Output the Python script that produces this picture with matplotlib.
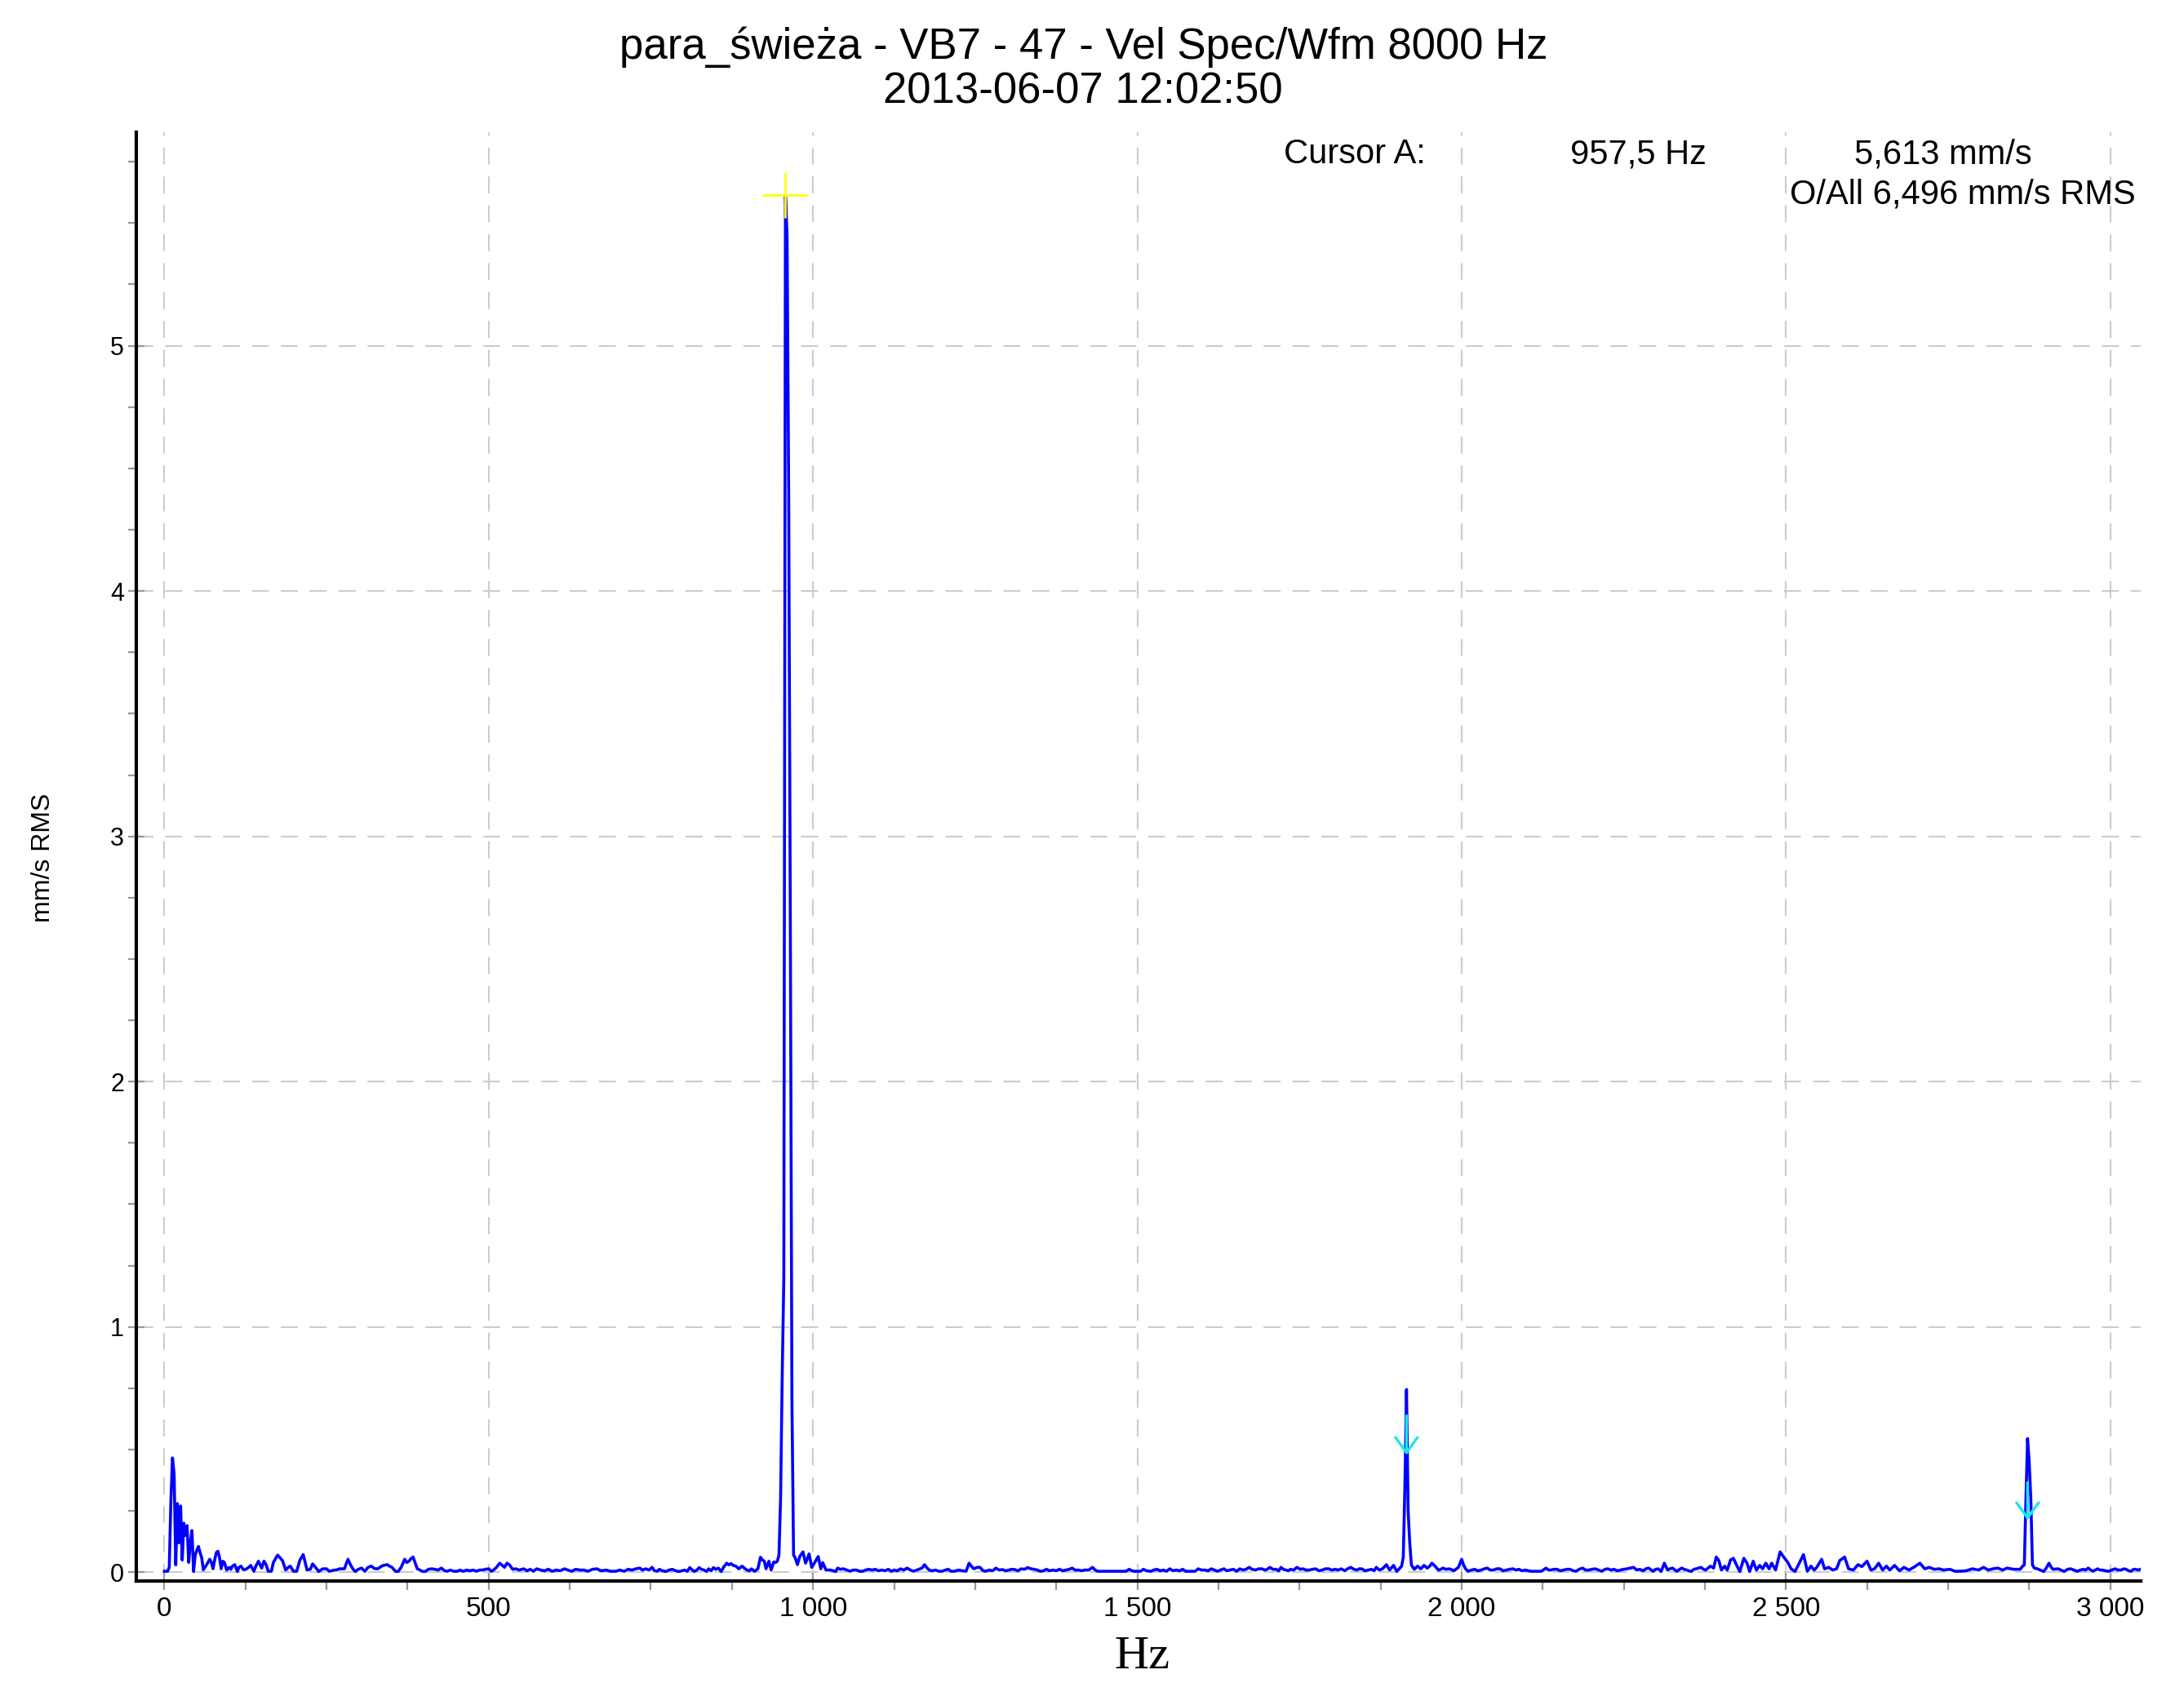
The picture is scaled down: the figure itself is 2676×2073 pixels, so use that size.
import numpy as np
import matplotlib
matplotlib.use("Agg")
import matplotlib.pyplot as plt
from matplotlib.ticker import MultipleLocator, FuncFormatter

plt.rcParams['font.family'] = ['Liberation Sans', 'DejaVu Sans']

# spectrum as (Hz, mm/s RMS) pairs, one list per band
band_0_750 = [
    (0, 0.004), (5, 0.004), (7.5, 0.02), (10, 0.29), (12.5, 0.466), (15, 0.40),
    (17.5, 0.03), (20, 0.28), (22.5, 0.12), (25, 0.27), (27.5, 0.05), (30, 0.20),
    (32.5, 0.15), (35, 0.19), (37.5, 0.04), (40, 0.12), (42.5, 0.17), (45, 0.003),
    (47.5, 0.07), (50, 0.09), (52.5, 0.105), (55, 0.08), (57.5, 0.06), (60, 0.01),
    (62.5, 0.02), (65, 0.03), (70, 0.053), (72.5, 0.04), (75, 0.014), (77.5, 0.05),
    (80, 0.08), (82.5, 0.086), (85, 0.06), (87.5, 0.014), (90, 0.045), (92.5, 0.04),
    (96, 0.009), (100, 0.02), (102.5, 0.012), (105, 0.025), (108.5, 0.031),
    (112.5, 0.003), (115, 0.02), (118, 0.025), (122, 0.01), (125.5, 0.012),
    (130, 0.02), (133, 0.028), (138, 0.004), (141, 0.025), (145, 0.045),
    (150, 0.017), (153.5, 0.045), (157, 0.03), (160, 0.004), (165, 0.004),
    (168, 0.04), (174.5, 0.07), (178, 0.06), (182, 0.048), (187, 0.009),
    (191, 0.02), (194, 0.025), (199, 0.004), (204, 0.004), (209, 0.05),
    (214, 0.072), (217, 0.04), (220, 0.009), (225, 0.012), (228.5, 0.034),
    (233, 0.02), (238, 0.003), (244, 0.014), (250, 0.014), (254, 0.004),
    (258, 0.006), (262, 0.009), (265, 0.009), (270, 0.014), (274, 0.014),
    (277.5, 0.014), (283, 0.053), (287, 0.03), (291, 0.012), (294.5, 0.003),
    (299, 0.012), (304, 0.017), (309, 0.004), (314, 0.02), (319, 0.025),
    (324, 0.015), (329, 0.014), (335, 0.025), (338, 0.028), (343.5, 0.031),
    (347, 0.025), (351, 0.02), (356, 0.004), (360.5, 0.003), (365, 0.02),
    (370.5, 0.053), (373.5, 0.04), (377, 0.045), (380, 0.055), (383.5, 0.062),
    (387, 0.035), (390, 0.014), (394, 0.009), (397, 0.004), (402, 0.003),
    (407, 0.012), (412, 0.014), (417, 0.012), (422, 0.009), (427, 0.017),
    (432, 0.006), (436, 0.004), (441, 0.009), (446, 0.004), (451, 0.004),
    (456, 0.009), (461, 0.004), (466, 0.009), (471, 0.006), (476, 0.009),
    (481, 0.004), (486, 0.009), (490, 0.009), (495, 0.012), (500, 0.014),
    (504, 0.004), (507.5, 0.009), (512, 0.02), (517, 0.037), (521, 0.028),
    (524.5, 0.02), (528, 0.037), (532, 0.03), (537, 0.012), (542, 0.014),
    (547, 0.009), (554, 0.014), (559, 0.006), (564, 0.012), (569, 0.004),
    (574, 0.014), (580, 0.009), (586, 0.006), (592, 0.012), (598, 0.004),
    (604, 0.009), (610, 0.006), (617, 0.014), (622, 0.009), (628, 0.004),
    (634, 0.012), (641, 0.009), (647, 0.009), (653, 0.004), (660, 0.012),
    (667, 0.014), (673, 0.006), (681, 0.009), (688, 0.004), (696, 0.004),
    (702, 0.009), (709, 0.004), (715, 0.012), (721, 0.009), (727, 0.014),
    (733, 0.017), (737, 0.009), (742, 0.014), (747, 0.009), (752, 0.02),
]

band_750_1520 = [
    (755, 0.007), (760, 0.004), (763, 0.012), (768, 0.006), (773, 0.003),
    (778, 0.009), (783, 0.012), (788, 0.006), (793, 0.003), (798, 0.006),
    (802, 0.009), (806, 0.004), (810, 0.019), (814, 0.009), (817, 0.003),
    (821, 0.009), (824.5, 0.019), (828, 0.012), (832, 0.009), (836, 0.003),
    (839, 0.014), (843, 0.006), (846.5, 0.019), (850, 0.012), (854, 0.017),
    (858.5, 0.003), (862, 0.02), (867, 0.037), (870, 0.03), (873.5, 0.035),
    (877, 0.028), (881, 0.025), (885.5, 0.014), (890.5, 0.025), (894, 0.017),
    (898, 0.009), (902, 0.006), (905, 0.014), (910, 0.004), (915, 0.014),
    (919, 0.061), (922, 0.05), (925, 0.045), (927.5, 0.014), (932, 0.045),
    (935.5, 0.009), (939.5, 0.042), (942.5, 0.04), (945, 0.045), (947.5, 0.07),
    (950, 0.3), (952.5, 0.8), (955, 1.2), (957.5, 5.613), (960, 5.45),
    (962.5, 4.4), (965, 2.66), (967.5, 0.7), (970, 0.07), (972.5, 0.059),
    (976, 0.031), (979.5, 0.064), (984.5, 0.083), (988.5, 0.037), (994, 0.075),
    (998, 0.02), (1002, 0.037), (1008, 0.064), (1012, 0.014), (1015, 0.039),
    (1020, 0.009), (1027.5, 0.009), (1035, 0.003), (1038, 0.017), (1042, 0.012),
    (1047, 0.014), (1052, 0.009), (1057, 0.004), (1062, 0.009), (1067, 0.009),
    (1072, 0.004), (1076.5, 0.004), (1081, 0.009), (1086, 0.012), (1091, 0.009),
    (1096, 0.012), (1101, 0.006), (1106, 0.009), (1111, 0.006), (1116, 0.012),
    (1121, 0.004), (1125, 0.009), (1130, 0.006), (1135, 0.014), (1140, 0.009),
    (1145, 0.017), (1150, 0.009), (1155, 0.004), (1160, 0.009), (1165, 0.014),
    (1168, 0.017), (1172, 0.031), (1175, 0.02), (1179, 0.009), (1184, 0.006),
    (1189, 0.009), (1194, 0.004), (1199, 0.004), (1204, 0.009), (1208.5, 0.012),
    (1213, 0.004), (1218, 0.004), (1224, 0.009), (1231, 0.006), (1236, 0.004),
    (1240.5, 0.037), (1244, 0.025), (1248, 0.014), (1253, 0.02), (1257.5, 0.02),
    (1261, 0.009), (1265, 0.004), (1272, 0.009), (1277, 0.006), (1282, 0.017),
    (1287, 0.009), (1292, 0.011), (1297, 0.006), (1302, 0.009), (1306, 0.012),
    (1311, 0.011), (1316, 0.006), (1321, 0.014), (1326, 0.012), (1331, 0.019),
    (1336, 0.014), (1341, 0.012), (1346, 0.009), (1350.5, 0.004), (1355, 0.006),
    (1360, 0.012), (1365, 0.006), (1370, 0.009), (1375, 0.006), (1380, 0.012),
    (1385, 0.006), (1390, 0.009), (1395, 0.012), (1399.5, 0.017), (1404, 0.009),
    (1409, 0.009), (1414, 0.006), (1419, 0.009), (1425, 0.009), (1431, 0.02),
    (1435, 0.009), (1439, 0.004), (1482.5, 0.004), (1487.5, 0.012), (1492, 0.006),
    (1495, 0.004), (1505, 0.004), (1509.5, 0.012), (1514, 0.006), (1521, 0.004),
]

band_1520_2290 = [
    (1525, 0.009), (1530.5, 0.012), (1535, 0.006), (1540.5, 0.009), (1545, 0.004),
    (1550, 0.014), (1555, 0.006), (1560, 0.009), (1565, 0.006), (1570, 0.012),
    (1574.5, 0.004), (1589, 0.004), (1594, 0.014), (1599, 0.009), (1604, 0.009),
    (1609, 0.006), (1614, 0.014), (1619, 0.009), (1623.5, 0.004), (1628, 0.009),
    (1633.5, 0.014), (1638, 0.006), (1643, 0.009), (1648, 0.012), (1653, 0.004),
    (1658, 0.014), (1663, 0.009), (1667.5, 0.012), (1672.5, 0.02), (1677, 0.012),
    (1682, 0.009), (1687, 0.014), (1692, 0.014), (1697, 0.009), (1700, 0.012),
    (1704.5, 0.02), (1709, 0.012), (1714, 0.012), (1718, 0.006), (1721.5, 0.02),
    (1725, 0.012), (1729, 0.009), (1733, 0.006), (1736, 0.012), (1741, 0.009),
    (1746, 0.02), (1751, 0.012), (1755.5, 0.014), (1760, 0.009), (1765.5, 0.009),
    (1770, 0.012), (1775, 0.014), (1780, 0.006), (1785, 0.009), (1790, 0.014),
    (1795, 0.014), (1800, 0.009), (1805, 0.012), (1810, 0.009), (1814.5, 0.014),
    (1820, 0.006), (1824, 0.014), (1829, 0.02), (1834, 0.012), (1839, 0.009),
    (1842, 0.014), (1846, 0.014), (1851, 0.006), (1856, 0.009), (1861, 0.012),
    (1865, 0.006), (1868.5, 0.02), (1873, 0.009), (1878, 0.014), (1884, 0.031),
    (1889, 0.009), (1895, 0.028), (1900, 0.003), (1903, 0.012), (1907.5, 0.025),
    (1910, 0.06), (1912.5, 0.35), (1915, 0.745), (1917.5, 0.25), (1920, 0.12),
    (1922.5, 0.03), (1927, 0.012), (1932, 0.025), (1937, 0.014), (1942, 0.028),
    (1947, 0.017), (1951, 0.025), (1954, 0.037), (1959, 0.025), (1964, 0.009),
    (1968, 0.012), (1971, 0.017), (1976, 0.012), (1981, 0.014), (1986, 0.009),
    (1988, 0.006), (1995, 0.02), (2000, 0.053), (2003, 0.03), (2006, 0.014),
    (2010, 0.004), (2015, 0.009), (2020, 0.012), (2025, 0.006), (2030, 0.009),
    (2035, 0.014), (2039.5, 0.017), (2044, 0.009), (2049, 0.009), (2054, 0.014),
    (2059, 0.014), (2064, 0.006), (2069, 0.009), (2074, 0.012), (2079, 0.014),
    (2084, 0.009), (2088.5, 0.012), (2093, 0.006), (2098, 0.009), (2103, 0.006),
    (2108, 0.004), (2123, 0.004), (2130, 0.017), (2134, 0.009), (2137.5, 0.009),
    (2142, 0.012), (2147, 0.012), (2152, 0.006), (2157, 0.009), (2162, 0.012),
    (2167, 0.012), (2172, 0.006), (2176.5, 0.004), (2181, 0.012), (2186.5, 0.017),
    (2191, 0.009), (2196, 0.009), (2201, 0.012), (2206, 0.014), (2211, 0.009),
    (2216, 0.004), (2221, 0.012), (2225.5, 0.014), (2230, 0.009), (2235, 0.012),
    (2240, 0.006), (2245, 0.009), (2250, 0.012), (2255, 0.014), (2260, 0.017),
    (2265, 0.02), (2270, 0.009), (2274.5, 0.012), (2280, 0.006), (2284, 0.014),
    (2288, 0.017),
]

band_2290_3047 = [
    (2290, 0.014), (2295, 0.004), (2299, 0.012), (2303, 0.014), (2307.5, 0.003),
    (2312.5, 0.037), (2317.5, 0.009), (2321, 0.014), (2325, 0.017), (2329, 0.009),
    (2332, 0.004), (2336, 0.012), (2339.5, 0.017), (2343, 0.012), (2347, 0.009),
    (2350, 0.006), (2354, 0.003), (2358, 0.012), (2361.5, 0.014), (2365, 0.017),
    (2369, 0.02), (2373, 0.012), (2376, 0.009), (2380, 0.017), (2383.5, 0.025),
    (2388.5, 0.017), (2392.5, 0.062), (2396.5, 0.048), (2400.5, 0.009),
    (2405.5, 0.025), (2409.5, 0.009), (2414.5, 0.05), (2419, 0.057), (2424, 0.028),
    (2429, 0.003), (2435, 0.057), (2440, 0.037), (2444, 0.003), (2449.5, 0.045),
    (2454.5, 0.009), (2459.5, 0.028), (2464, 0.014), (2469, 0.037), (2474, 0.014),
    (2478, 0.037), (2484, 0.009), (2491, 0.083), (2496, 0.064), (2500, 0.05),
    (2503.5, 0.037), (2508, 0.014), (2514, 0.003), (2520.5, 0.037), (2527, 0.072),
    (2533, 0.004), (2538.5, 0.025), (2543.5, 0.009), (2547.5, 0.02), (2555, 0.053),
    (2559.5, 0.014), (2566, 0.02), (2572, 0.009), (2578, 0.014), (2583, 0.048),
    (2590.5, 0.062), (2596.5, 0.014), (2604, 0.009), (2611, 0.031), (2617, 0.023),
    (2625, 0.045), (2631, 0.009), (2636.5, 0.014), (2643, 0.037), (2649, 0.009),
    (2655, 0.025), (2660, 0.009), (2667.5, 0.028), (2675, 0.006), (2682, 0.02),
    (2689.5, 0.009), (2697, 0.02), (2706.5, 0.037), (2714, 0.014), (2721, 0.02),
    (2728.5, 0.012), (2736, 0.014), (2743, 0.009), (2753, 0.012), (2760.5, 0.004),
    (2767.5, 0.004), (2777.5, 0.006), (2787.5, 0.014), (2797, 0.009), (2804.5, 0.02),
    (2812, 0.009), (2819, 0.014), (2826.5, 0.017), (2834, 0.009), (2841, 0.017),
    (2851, 0.012), (2861, 0.012), (2865, 0.025), (2867.5, 0.03), (2870, 0.3),
    (2872.5, 0.545), (2875, 0.45), (2877.5, 0.3), (2880, 0.03), (2883, 0.017),
    (2887.5, 0.014), (2892, 0.009), (2897.5, 0.003), (2902, 0.02), (2905.5, 0.037),
    (2909, 0.02), (2912, 0.012), (2919.5, 0.014), (2924, 0.009), (2929, 0.003),
    (2934, 0.012), (2939, 0.014), (2944, 0.009), (2949, 0.004), (2954, 0.009),
    (2958.5, 0.012), (2962, 0.009), (2966, 0.017), (2970, 0.009), (2973, 0.004),
    (2977, 0.009), (2980.5, 0.014), (2984, 0.009), (2988, 0.009), (2993, 0.006),
    (2997.5, 0.004), (3002, 0.009), (3007.5, 0.014), (3012, 0.009), (3017, 0.009),
    (3021, 0.014), (3024.5, 0.012), (3028, 0.006), (3032, 0.004), (3036, 0.012),
    (3039, 0.012), (3043, 0.009), (3046.5, 0.012),
]

# cursor and harmonic markers
cursor_hz = 957.5
cursor_amp = 5.613
harmonic_hz = [1915.0, 2872.5]
harmonic_tip = [0.478, 0.212]
harmonic_tail = [0.638, 0.365]

title_lines = ["para_świeża - VB7 - 47 - Vel Spec/Wfm 8000 Hz", "2013-06-07 12:02:50"]
cursor_texts = ["Cursor A:", "957,5 Hz", "5,613 mm/s"]
overall_text = "O/All 6,496 mm/s RMS"
x_ticks = [0, 500, 1000, 1500, 2000, 2500, 3000]
y_ticks = [0, 1, 2, 3, 4, 5]

spectrum = band_0_750 + band_750_1520 + band_1520_2290 + band_2290_3047
hz = np.array([p[0] for p in spectrum])
amp = np.array([p[1] for p in spectrum])

fig = plt.figure(figsize=(26.76, 20.73), dpi=100)
ax = fig.add_axes([0.0625, 0.0657, 0.9177, 0.8561])

ax.plot(hz, amp, color='#0000ff', lw=2.6, zorder=3)
ax.plot([cursor_hz], [cursor_amp], marker='+', color='#ffff00', markersize=40,
        mew=2, zorder=5)
for f, tip, tail in zip(harmonic_hz, harmonic_tip, harmonic_tail):
    ax.annotate('', xy=(f, tip), xytext=(f, tail), zorder=6,
                arrowprops=dict(arrowstyle='->, head_length=0.5, head_width=0.36',
                                color='#1ee6e6', lw=2.4, mutation_scale=27,
                                shrinkA=0, shrinkB=0))

ax.set_xlim(-43, 3047)
ax.set_ylim(-0.035, 5.87)

ax.set_xticks(x_ticks)
ax.set_yticks(y_ticks)
ax.xaxis.set_minor_locator(MultipleLocator(125))
ax.yaxis.set_minor_locator(MultipleLocator(0.25))
ax.xaxis.set_major_formatter(FuncFormatter(lambda v, p: f"{int(v):,}".replace(",", " ")))

ax.tick_params(axis='x', which='major', direction='inout', length=16, width=1.6,
               color='#999999', labelsize=24, pad=6)
ax.tick_params(axis='x', which='minor', direction='out', length=8, width=1.6,
               color='#999999')
ax.tick_params(axis='y', which='major', direction='inout', length=14, width=1.6,
               color='#999999', labelsize=22, pad=4)
ax.tick_params(axis='y', which='minor', direction='out', length=7, width=1.6,
               color='#999999')

ax.grid(True, which='major', color='#cccccc', lw=1.5, linestyle=(0, (10, 7)))
ax.set_axisbelow(True)

for s in ['top', 'right']:
    ax.spines[s].set_visible(False)
for s in ['left', 'bottom']:
    ax.spines[s].set_linewidth(3)
    ax.spines[s].set_color('black')

fig.text(0.0198, 0.493, "mm/s RMS", rotation=90, ha='center', va='center', fontsize=23)
fig.text(0.523, 0.0206, "Hz", ha='center', va='center', fontsize=42,
         family=['Liberation Serif', 'DejaVu Serif'])

fig.text(0.496, 0.972, title_lines[0], ha='center', va='center', fontsize=38)
fig.text(0.496, 0.9457, title_lines[1], ha='center', va='center', fontsize=38)

fig.text(0.588, 0.9086, cursor_texts[0], ha='left', va='center', fontsize=30)
fig.text(0.750, 0.9086, cursor_texts[1], ha='center', va='center', fontsize=30)
fig.text(0.8897, 0.9086, cursor_texts[2], ha='center', va='center', fontsize=30)
fig.text(0.9777, 0.8848, overall_text, ha='right', va='center', fontsize=30)

fig.savefig('out.png', dpi=100)
